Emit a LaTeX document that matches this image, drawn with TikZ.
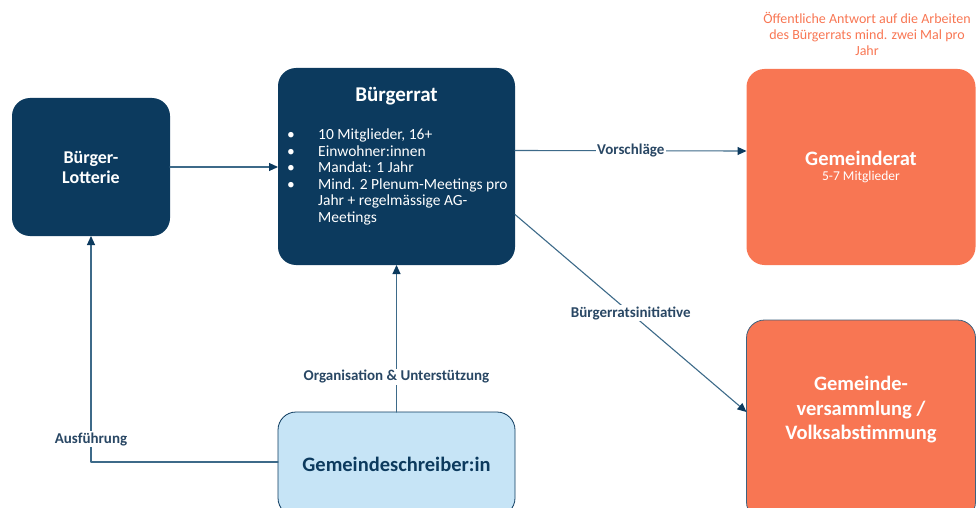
\documentclass[tikz,border=0pt]{standalone}
\usepackage{fontspec}
\setmainfont{Carlito}
\usetikzlibrary{arrows.meta}
\definecolor{navy}{HTML}{0C3A5E}
\definecolor{koralle}{HTML}{F87653}
\definecolor{hellblau}{HTML}{C6E4F6}
\definecolor{linie}{HTML}{3D6A89}
\definecolor{schrift}{HTML}{294764}
\begin{document}
\begin{tikzpicture}[x=1pt,y=-1pt,>={Triangle[length=9pt,width=8pt,color=navy]}, font=\fontsize{15.5}{16.5}\selectfont, line join=round, line cap=round]
	\def\r{18pt} % Eckenradius
	\tikzset{
		kasten/.style={rounded corners=\r, inner sep=0pt, outer sep=0pt, align=center},
		dunkel/.style={kasten, fill=navy, text=white},
		orange/.style={kasten, fill=koralle, text=white},
		pfeil/.style={->, draw=linie, line width=1.1pt},
		etikett/.style={fill=white, inner sep=1.5pt, text=schrift, font=\fontsize{15}{17}\selectfont\bfseries}
	}
	\useasboundingbox (0,0) rectangle (977,508);
	\clip (0,0) rectangle (977,508);
	\node[dunkel, minimum width=158, minimum height=138, font=\fontsize{18}{20}\selectfont\bfseries] (lotterie) at (91,167) {Bürger-\\Lotterie};
	\node[dunkel, minimum width=237, minimum height=197] (rat) at (396.5,166.5) {};
	\node[text=white, font=\fontsize{21}{22}\selectfont\bfseries] (rattitel) at (396.5,96) {Bürgerrat};
	\node[text=white, anchor=north west, inner sep=0pt] (ratliste) at (287,128) {%
		\begin{tabular}{@{}p{31pt}@{}l@{}}
			\textbullet & 10 Mitglieder, 16+\\
			\textbullet & Einwohner:innen\\
			\textbullet & Mandat: 1 Jahr\\
			\textbullet & Mind. 2 Plenum-Meetings pro\\
			& Jahr + regelmässige AG-\\
			& Meetings
		\end{tabular}};
	\node[orange, minimum width=229, minimum height=196] (gemeinderat) at (861,167) {%
		{\fontsize{20.5}{22}\selectfont\bfseries Gemeinderat}\\[-2pt]
		{\fontsize{13.5}{15}\selectfont 5-7 Mitglieder}};
	\node[orange, draw=navy!80, line width=0.8pt, minimum width=229, minimum height=200] (versammlung) at (861,420) {};
	\node[text=white, align=center, font=\fontsize{20.5}{24.5}\selectfont\bfseries] (versammlungtext) at (861,410) {Gemeinde-\\versammlung /\\Volksabstimmung};
	\node[kasten, fill=hellblau, draw=navy, line width=0.8pt, text=navy, minimum width=237, minimum height=104, font=\fontsize{20.5}{22}\selectfont\bfseries] (schreiber) at (396.5,464) {Gemeindeschreiber:in};
	\node[text=koralle, align=center, font=\fontsize{14}{16}\selectfont] (antwort) at (867,34) {Öffentliche Antwort auf die Arbeiten\\des Bürgerrats mind. zwei Mal pro\\Jahr};
	% Verbindungen
	\draw[pfeil] (lotterie.east) -- (lotterie.east -| rat.west);
	\draw[pfeil] ([yshift=16]rat.east) -- ([yshift=16]gemeinderat.west) node[midway, etikett] (vorschlag) {Vorschläge};
	\draw[pfeil] ([yshift=-48]rat.east) -- ([yshift=8]versammlung.west) node[midway, etikett] (initiative) {Bürgerratsinitiative};
	\draw[pfeil] (schreiber.north) -- (rat.south) node[pos=.24, etikett] (organisation) {Organisation \& Unterstützung};
	\draw[pfeil] ([yshift=2]schreiber.west) -| (lotterie.south) node[pos=.55, etikett] (ausfuehrung) {Ausführung};
\end{tikzpicture}
\end{document}
